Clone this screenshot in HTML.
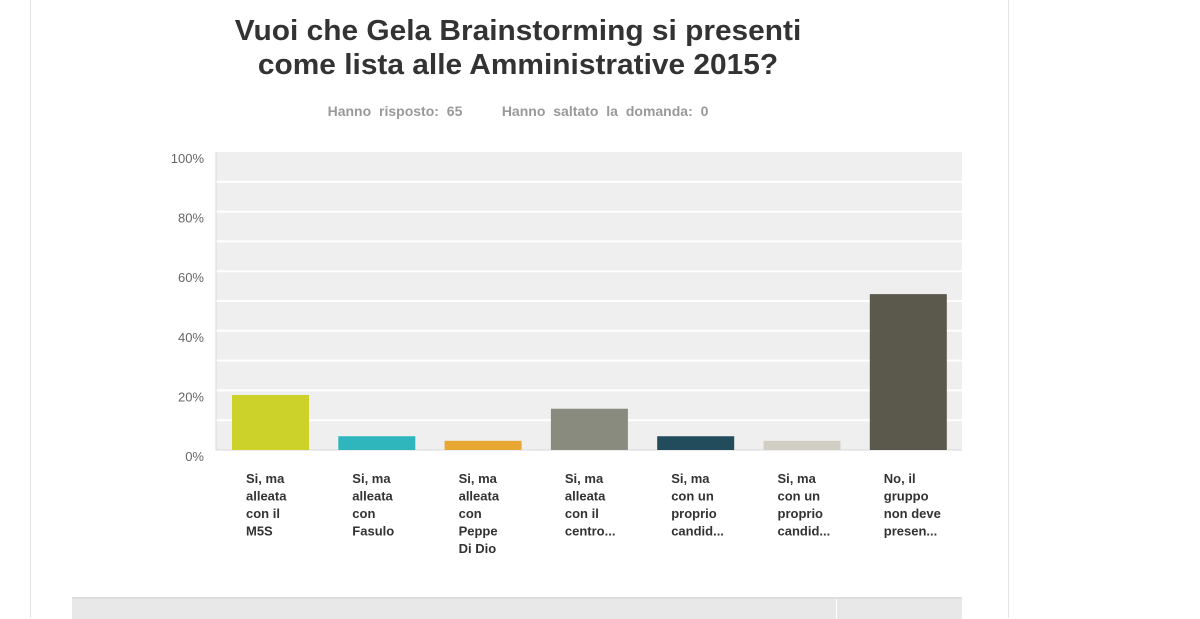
<!DOCTYPE html>
<html><head><meta charset="utf-8"><style>
body{margin:0;width:1200px;height:612px;background:#fff;font-family:"Liberation Sans",Arial,sans-serif;overflow:hidden;position:relative}
.card{position:absolute;left:30px;top:-2px;width:977px;height:620px;border-left:1px solid #e4e4e4;border-right:1px solid #e4e4e4}
.title{position:absolute;left:0;width:1036px;top:14px;text-align:center;font-size:29px;font-weight:bold;color:#333;line-height:34px;transform:scaleX(1.03)}
.sub{position:absolute;left:0;width:1036px;top:103px;text-align:center;font-size:14px;font-weight:bold;color:#999;word-spacing:4px}
.foot{position:absolute;left:72px;top:597px;width:890px;height:20px;background:#e8e8e8;border-top:2px solid #ddd}
.foot div{position:absolute;left:764px;top:0;width:1px;height:20px;background:#fff}
</style></head><body>
<div class="card"></div>
<div class="title">Vuoi che Gela Brainstorming si presenti<br>come lista alle Amministrative 2015?</div>
<div class="sub">Hanno risposto: 65 &nbsp;&nbsp;&nbsp; Hanno saltato la domanda: 0</div>
<svg id="chart" width="1200" height="612" style="position:absolute;left:0;top:0"></svg>
<div class="foot"><div></div></div>
<script>
const categories=[["Si, ma","alleata","con il","M5S"],["Si, ma","alleata","con","Fasulo"],["Si, ma","alleata","con","Peppe","Di Dio"],["Si, ma","alleata","con il","centro..."],["Si, ma","con un","proprio","candid..."],["Si, ma","con un","proprio","candid..."],["No, il","gruppo","non deve","presen..."]];
const values=[18.46,4.62,3.08,13.85,4.62,3.08,52.31];
const colors=["#cdd22a","#2fb6bd","#e8a632","#8a8b7f","#224c5c","#d1cfc3","#5a594b"];
const yTicks=[0,20,40,60,80,100];
const svg=document.getElementById('chart');const NS='http://www.w3.org/2000/svg';
const x0=216,x1=962,yb=450,yt=152;
const y=v=>yb-(yb-yt)*v/100;
const pitch=106.3,bw=77,bx=i=>232+i*pitch;
function mk(t,a){const e=document.createElementNS(NS,t);for(const k in a)e.setAttribute(k,a[k]);svg.appendChild(e);return e;}
const bg=mk('rect',{x:x0,y:yt,width:x1-x0,height:yb-yt,fill:'#efefef'});


for(let v=10;v<100;v+=10){const l=mk('line',{x1:x0,x2:x1,y1:y(v),y2:y(v),stroke:'#fff','stroke-width':2});

}
mk('line',{x1:x0,x2:x0,y1:yt,y2:yb,stroke:'#d8d8d8'});
mk('line',{x1:x0,x2:x1,y1:yb,y2:yb,stroke:'#d8d8d8'});
yTicks.forEach(v=>{const t=mk('text',{x:204,y:y(v)+11,'text-anchor':'end','font-size':13,fill:'#666'});t.textContent=v+'%';

});
values.forEach((v,i)=>{const r=mk('rect',{x:bx(i),y:y(v),width:bw,height:yb-y(v),fill:colors[i]});


const t=mk('text',{x:bx(i)+14,y:483,'font-size':13,'font-weight':'bold',fill:'#333'});


categories[i].forEach((s,j)=>{const ts=document.createElementNS(NS,'tspan');ts.setAttribute('x',bx(i)+14);ts.setAttribute('y',483+j*17.5);ts.textContent=s;t.appendChild(ts);});});
</script>
</body></html>
